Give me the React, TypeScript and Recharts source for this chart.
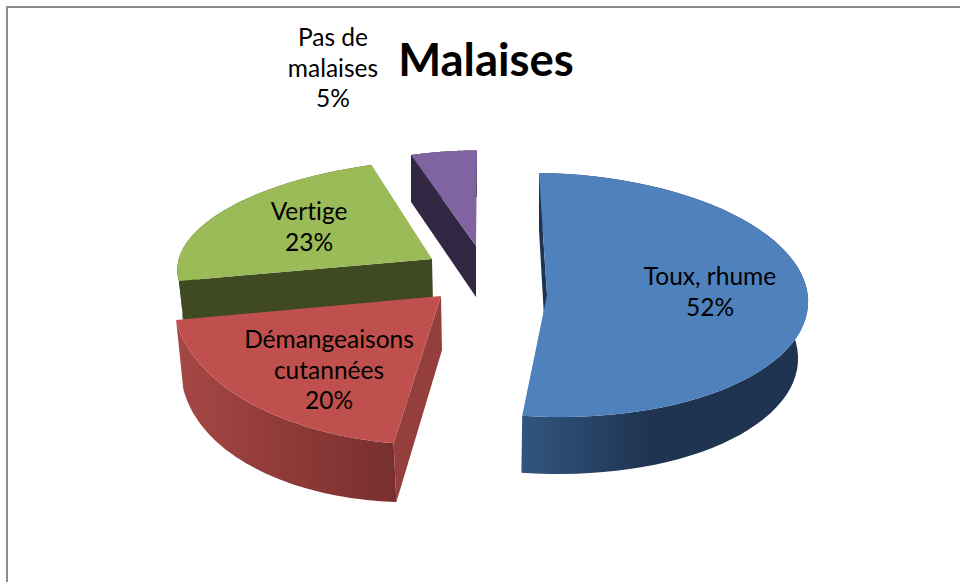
import { Pie, PieChart } from 'recharts'

const categories = ['Pas de malaises', 'Vertige', 'Démangeaisons cutannées', 'Toux, rhume']
const values = [5, 23, 20, 52]
const labelLines = [['Pas de', 'malaises', '5%'], ['Vertige', '23%'], ['Démangeaisons', 'cutannées', '20%'], ['Toux, rhume', '52%']]
const colors = ['#8064a2', '#9bbb59', '#c0504d', '#4f81bd']

const chartData = categories.map((name, i) => ({ name, value: values[i] }))

type Vec = [number, number]
interface SliceView {
  apex: Vec
  u: Vec
  v: Vec
  bottomApex: Vec
  bottomU: Vec
  bottomV: Vec
  rimFill: string | [string, string, string, number]
  edgeFill: string
  label: Vec
}

// the original 3D pie has its slices dragged around by hand, so each one gets its own projection
const views: SliceView[] = [
  { apex: [-4, -45], u: [213, 0.6], v: [1, -95.5], bottomApex: [-4, 6], bottomU: [213, 0], bottomV: [1, -100], rimFill: '#322743', edgeFill: '#322743', label: [-147, -245] },
  { apex: [-48, -32], u: [254, -3.4], v: [19, -100], bottomApex: [-47, 12], bottomU: [250, -3], bottomV: [19, -100], rimFill: '#3f4a22', edgeFill: '#3f4a22', label: [-171, -71] },
  { apex: [-39, 5], u: [267, 4], v: [14, -149], bottomApex: [-38, 59], bottomU: [261, -10], bottomV: [13, -152], rimFill: ['#a64845', '#8f3a38', '#772f2d', 0.5], edgeFill: '#953f3d', label: [-151, 57] },
  { apex: [67, 4], u: [261, 3], v: [-8, -122], bottomApex: [66, 61], bottomU: [252, 3], bottomV: [-7, -122], rimFill: ['#31557f', '#1f3450', '#1f3450', 0.45], edgeFill: '#1f3450', label: [230, -6] },
]

const rad = Math.PI / 180
const point = (c: Vec, o: Vec, u: Vec, v: Vec, theta: number): Vec => [
  c[0] + o[0] + Math.sin(theta * rad) * u[0] + Math.cos(theta * rad) * v[0],
  c[1] + o[1] + Math.sin(theta * rad) * u[1] + Math.cos(theta * rad) * v[1],
]
const toPath = (pts: Vec[]) => pts.map((p, i) => `${i ? 'L' : 'M'}${p[0].toFixed(1)} ${p[1].toFixed(1)}`).join(' ') + ' Z'

function Slice3D(props: any) {
  const { cx, cy, startAngle, endAngle, index } = props
  const view = views[index]
  const c: Vec = [cx, cy]
  // recharts angles run counter-clockwise from 3 o'clock, convert to clockwise from 12
  const from = 90 - endAngle
  const to = 90 - startAngle
  const thetas: number[] = []
  for (let i = 0; i <= 60; i++) thetas.push(from + ((to - from) * i) / 60)

  const topRim = thetas.map((t) => point(c, view.apex, view.u, view.v, t))
  const bottomRim = thetas.map((t) => point(c, view.bottomApex, view.bottomU, view.bottomV, t))
  const topApex: Vec = [cx + view.apex[0], cy + view.apex[1]]
  const lowApex: Vec = [cx + view.bottomApex[0], cy + view.bottomApex[1]]
  const gradId = `rim-${index}`
  const rim = view.rimFill

  return (
    <g>
      {Array.isArray(rim) && (
        <defs>
          <linearGradient id={gradId} x1="0" y1="0" x2="1" y2="0">
            <stop offset="0" stopColor={rim[0]} />
            <stop offset={rim[3]} stopColor={rim[1]} />
            <stop offset="1" stopColor={rim[2]} />
          </linearGradient>
        </defs>
      )}
      <path d={toPath([...topRim, ...[...bottomRim].reverse()])} fill={Array.isArray(rim) ? `url(#${gradId})` : rim} />
      <path d={toPath([topRim[0], topApex, lowApex, bottomRim[0]])} fill={view.edgeFill} />
      <path d={toPath([topApex, ...topRim])} fill={colors[index]} />
    </g>
  )
}

function SliceLabel(props: any) {
  const { cx, cy, index } = props
  const [dx, dy] = views[index].label
  const lines = labelLines[index]
  return (
    <text x={cx + dx} y={cy + dy} textAnchor="middle" fontFamily="Lato" fontSize={24.5} fill="#000" style={{ fontVariantLigatures: 'none' }}>
      {lines.map((line, i) => (
        <tspan key={line} x={cx + dx} dy={i === 0 ? 0 : 30.6}>
          {line}
        </tspan>
      ))}
    </text>
  )
}

export default function App() {
  return (
    <div style={{ position: 'absolute', left: 0, top: 0, width: 960, height: 582, overflow: 'hidden', background: '#fff' }}>
      <div style={{ position: 'absolute', left: 6, top: 6, right: -4, bottom: -4, borderLeft: '2px solid #8c8c8c', borderTop: '2px solid #8c8c8c' }} />
      <PieChart width={960} height={582} margin={{ top: 0, right: 0, bottom: 0, left: 0 }} style={{ position: 'absolute', left: 0, top: 0 }}>
        <text x={486} y={76} textAnchor="middle" fontFamily="Lato" fontSize={45.5} fontWeight={700} fill="#000">
          Malaises
        </text>
        <Pie
          data={chartData}
          dataKey="value"
          nameKey="name"
          cx={480}
          cy={291}
          outerRadius={260}
          startAngle={90}
          endAngle={450}
          stroke="none"
          shape={Slice3D}
          label={SliceLabel}
          labelLine={false}
          isAnimationActive={false}
        />
      </PieChart>
    </div>
  )
}
